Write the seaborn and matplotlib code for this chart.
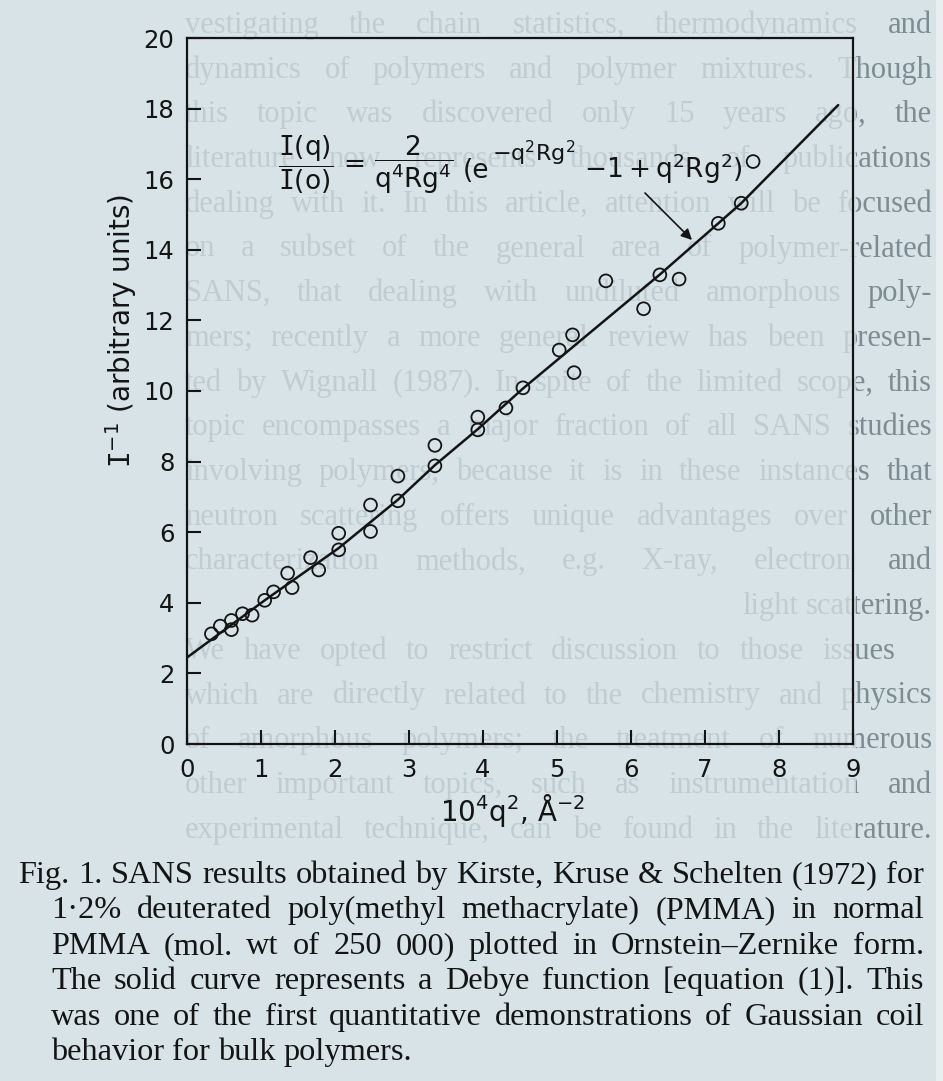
import matplotlib
matplotlib.use("Agg")
import matplotlib.pyplot as plt
import seaborn as sns
from matplotlib.patches import Rectangle

# ---- data: 10^4 q^2 (Å^-2) against inverse scattered intensity ----
q2 = [0.33, 0.45, 0.60, 0.60, 0.75, 0.88, 1.05, 1.17, 1.36, 1.42, 1.67, 1.78,
      2.05, 2.05, 2.48, 2.48, 2.85, 2.85, 3.35, 3.35, 3.93, 3.93, 4.31, 4.54,
      5.03, 5.21, 5.23, 5.66, 6.17, 6.39, 6.65, 7.18, 7.49, 7.65]
inv_intensity = [3.12, 3.34, 3.50, 3.24, 3.69, 3.65, 4.07, 4.31, 4.84, 4.43, 5.28, 4.93,
                 5.97, 5.50, 6.77, 6.02, 7.59, 6.89, 8.46, 7.88, 9.26, 8.90, 9.52, 10.09,
                 11.16, 11.59, 10.52, 13.12, 12.33, 13.29, 13.17, 14.75, 15.32, 16.50]

# Debye curve, traced along its length
curve_q2 = [0.0, 1.05, 2.05, 2.85, 3.35, 3.93, 4.54, 6.39, 7.18, 7.49, 8.80]
curve_inv = [2.45, 4.07, 5.55, 6.92, 7.90, 8.92, 10.07, 13.30, 14.75, 15.32, 18.1]

x_ticks = list(range(0, 10))
y_ticks = list(range(0, 21, 2))

caption_lines = [
    "Fig. 1. SANS results obtained by Kirste, Kruse & Schelten (1972) for",
    "1\u00b72% deuterated poly(methyl methacrylate) (PMMA) in normal",
    "PMMA (mol. wt of 250\u2009000) plotted in Ornstein\u2013Zernike form.",
    "The solid curve represents a Debye function [equation (1)]. This",
    "was one of the first quantitative demonstrations of Gaussian coil",
    "behavior for bulk polymers.",
]

# text from the reverse side of the page showing through the paper
ghost_lines = [
    "vestigating the chain statistics, thermodynamics and",
    "dynamics of polymers and polymer mixtures. Though",
    "this topic was discovered only 15 years ago, the",
    "literature now represents thousands of publications",
    "dealing with it. In this article, attention will be focused",
    "on a subset of the general area of polymer-related",
    "SANS, that dealing with undiluted amorphous poly-",
    "mers; recently a more general review has been presen-",
    "ted by Wignall (1987). In spite of the limited scope, this",
    "topic encompasses a major fraction of all SANS studies",
    "involving polymers, because it is in these instances that",
    "neutron scattering offers unique advantages over other",
    "characterization methods, e.g. X-ray, electron and",
    "light scattering.",
    "We have opted to restrict discussion to those issues",
    "which are directly related to the chemistry and physics",
    "of amorphous polymers; the treatment of numerous",
    "other important topics, such as instrumentation and",
    "experimental technique, can be found in the literature.",
]

W, H = 943, 1081
PAGE = "#d7e3e7"
INK = "#141414"
GHOST = "#7d8b93"
SERIF = ["Liberation Serif", "DejaVu Serif"]

sns.set_theme(style="ticks")
plt.rcParams["font.family"] = ["DejaVu Sans"]
plt.rcParams["mathtext.fontset"] = "custom"
plt.rcParams["mathtext.rm"] = "DejaVu Sans"
plt.rcParams["mathtext.it"] = "DejaVu Sans"
plt.rcParams["mathtext.bf"] = "DejaVu Sans:bold"
plt.rcParams["mathtext.tt"] = "DejaVu Sans Mono"

fig = plt.figure(figsize=(W / 100, H / 100), dpi=100, facecolor=PAGE)
renderer = fig.canvas.get_renderer()


def fxy(x, y):
    return x / W, 1 - y / H


def natural_width(text, size, family):
    words = text.split()
    probe = [fig.text(0, 0, w, fontsize=size, family=family) for w in words]
    total = sum(p.get_window_extent(renderer).width for p in probe)
    for p in probe:
        p.remove()
    return total + size * 100 / 72 * 0.25 * (len(words) - 1)


def place_line(text, x0, x1, baseline, size, family, color, z, mode="justify"):
    words = text.split()
    arts = [fig.text(0, 0, w, fontsize=size, family=family, color=color,
                     ha="left", va="baseline", zorder=z) for w in words]
    widths = [a.get_window_extent(renderer).width for a in arts]
    if mode == "justify" and len(words) > 1:
        gap = (x1 - x0 - sum(widths)) / (len(words) - 1)
    else:
        gap = size * 100 / 72 * 0.25
    total = sum(widths) + gap * (len(words) - 1)
    x = x0 if mode != "right" else x1 - total
    for a, w in zip(arts, widths):
        a.set_position(fxy(x, baseline))
        x += w + gap
    return arts


# show-through text, then the paler figure area laid over it
for i, line in enumerate(ghost_lines):
    base = 33 + 44.7 * i
    if line.startswith("light"):
        mode, x1 = "right", 932
    elif line.startswith("We have"):
        mode, x1 = "justify", 895
    else:
        mode, x1 = "justify", 932
    size = 22
    nat = natural_width(line, size, SERIF)
    if nat > x1 - 185:
        size *= (x1 - 185) / nat
    place_line(line, 185, x1, base, size, SERIF, GHOST, 0, mode)

fig.patches.append(Rectangle((0, 0), 856 / W, 1, transform=fig.transFigure,
                             facecolor=PAGE, edgecolor="none", alpha=0.74, zorder=0.5))
fig.patches.append(Rectangle((936 / W, 0), 7 / W, 1, transform=fig.transFigure,
                             facecolor="#e9eff0", edgecolor="none", zorder=0.6))

# ---- plot ----
left, right, top, bottom = 187, 853, 38, 744
ax = fig.add_axes([left / W, 1 - bottom / H, (right - left) / W, (bottom - top) / H])
ax.set_facecolor("none")
ax.set_zorder(2)

sns.lineplot(x=curve_q2, y=curve_inv, ax=ax, color=INK, linewidth=1.8)
sns.scatterplot(x=q2, y=inv_intensity, ax=ax, s=85, marker="o",
                facecolor="none", edgecolor=INK, linewidth=1.3, zorder=3)

ax.set_xlim(0, 9)
ax.set_ylim(0, 20)
ax.set_xticks(x_ticks)
ax.set_yticks(y_ticks)
ax.set_xticklabels([str(v) for v in x_ticks])
ax.set_yticklabels([str(v) for v in y_ticks])
for side in ["left", "right", "top", "bottom"]:
    ax.spines[side].set_visible(True)
    ax.spines[side].set_color(INK)
    ax.spines[side].set_linewidth(1.6)
ax.tick_params(axis="both", direction="in", length=10, width=1.5, color=INK,
               labelcolor=INK, labelsize=17.5)
ax.tick_params(axis="y", pad=9)
ax.tick_params(axis="x", pad=10)
ax.grid(False)

ax.set_xlabel(r"$\mathrm{10^4q^2}$, Å$^{-2}$", fontsize=20, color=INK)
ax.xaxis.set_label_coords((513 - left) / (right - left), -(792 - bottom) / (bottom - top))
ax.set_ylabel(r"$\mathtt{I}^{-1}$ (arbitrary units)", fontsize=20, color=INK)
ax.yaxis.set_label_coords(-(left - 139) / (right - left), 0.585)


def dx(px):
    return (px - left) / (right - left) * 9


def dy(py):
    return (bottom - py) / (bottom - top) * 20


# Debye expression written on the plot
eq_kw = dict(transform=ax.transData, color=INK)
bar_y = dy(165)
ax.text(dx(306), bar_y, r"$\dfrac{\mathtt{I}\mathrm{(q)}}{\mathtt{I}\mathrm{(o)}}$",
        ha="center", va="center", fontsize=19, **eq_kw)
ax.text(dx(354), bar_y, "=", ha="center", va="center", fontsize=19, **eq_kw)
ax.text(dx(414), bar_y, r"$\dfrac{2}{\mathrm{q^4Rg^4}}$",
        ha="center", va="center", fontsize=19, **eq_kw)
ax.text(dx(463), dy(178), "(e", ha="left", va="baseline", fontsize=19, **eq_kw)
ax.text(dx(492), dy(161), r"$-\mathrm{q^2Rg^2}$", ha="left", va="baseline",
        fontsize=16, **eq_kw)
ax.text(dx(584), dy(178), r"$-1+\mathrm{q^2Rg^2})$", ha="left", va="baseline",
        fontsize=19, **eq_kw)
ax.annotate("", xy=(dx(692), dy(240)), xytext=(dx(645), dy(193)),
            arrowprops=dict(arrowstyle="-|>", color=INK, lw=1.2,
                            mutation_scale=16, shrinkA=0, shrinkB=0))

# ---- caption ----
cap_size = 24
for i, line in enumerate(caption_lines[:-1]):
    x0 = 18 if i == 0 else 51
    nat = natural_width(line, 24, SERIF)
    cap_size = min(cap_size, 24 * (924 - x0 - 4) / nat)
for i, line in enumerate(caption_lines):
    x0 = 18 if i == 0 else 51
    mode = "justify" if i < len(caption_lines) - 1 else "left"
    place_line(line, x0, 924, 883 + 35.4 * i, cap_size, SERIF, INK, 3, mode)

fig.savefig("out.png", dpi=100, facecolor=PAGE)
